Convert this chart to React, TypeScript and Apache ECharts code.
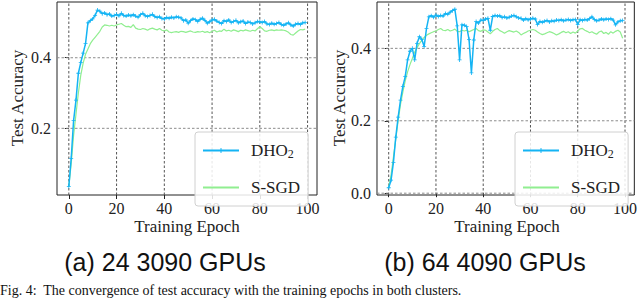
import React, { useEffect, useRef } from "react";
import * as echarts from "echarts";

const epochs: number[] = Array.from({ length: 100 }, (_, i) => i);

const xTicks = [0, 20, 40, 60, 80, 100];
const yTicksA = [0.2, 0.4];
const yTicksB = [0.0, 0.2, 0.4];

const seriesNames = ["DHO2", "S-SGD"];
const captions = ["(a) 24 3090 GPUs", "(b) 64 4090 GPUs"];

// (a) 24 3090 GPUs
const dhoA = [
  0.035, 0.115, 0.222, 0.28, 0.356, 0.386, 0.413, 0.44, 0.499, 0.505,
  0.51, 0.52, 0.535, 0.532, 0.525, 0.527, 0.522, 0.524, 0.518, 0.52,
  0.523, 0.519, 0.526, 0.52, 0.518, 0.521, 0.519, 0.522, 0.518, 0.515,
  0.522, 0.526, 0.519, 0.517, 0.52, 0.523, 0.517, 0.514, 0.516, 0.511,
  0.51, 0.514, 0.512, 0.515, 0.513, 0.516, 0.515, 0.513, 0.505, 0.507,
  0.498, 0.505, 0.51, 0.508, 0.503, 0.509, 0.512, 0.506, 0.498, 0.502,
  0.507, 0.509, 0.504, 0.5, 0.497, 0.505, 0.503, 0.507, 0.5, 0.503,
  0.506, 0.499, 0.502, 0.504, 0.497, 0.501, 0.5, 0.496, 0.499, 0.503,
  0.502, 0.5, 0.503, 0.496, 0.494, 0.498, 0.495, 0.497, 0.5, 0.494,
  0.492, 0.496, 0.499, 0.493, 0.49, 0.495, 0.497, 0.494, 0.499, 0.5,
];
const sgdA = [
  0.035, 0.1, 0.18, 0.24, 0.3, 0.35, 0.385, 0.41, 0.425, 0.44,
  0.45, 0.458, 0.466, 0.475, 0.487, 0.493, 0.492, 0.49, 0.492, 0.49,
  0.493, 0.495, 0.497, 0.492, 0.488, 0.489, 0.486, 0.494, 0.484, 0.481,
  0.48, 0.483, 0.481, 0.478, 0.482, 0.484, 0.481, 0.479, 0.483, 0.478,
  0.476, 0.479, 0.473, 0.471, 0.473, 0.474, 0.472, 0.475, 0.474, 0.472,
  0.474, 0.476, 0.473, 0.472, 0.474, 0.473, 0.475, 0.472, 0.474, 0.471,
  0.475, 0.478, 0.473, 0.476, 0.475, 0.481, 0.476, 0.478, 0.475, 0.479,
  0.477, 0.474, 0.478, 0.476, 0.479, 0.477, 0.475, 0.478, 0.476, 0.482,
  0.488, 0.483, 0.476, 0.475, 0.478, 0.479, 0.477, 0.479, 0.478, 0.479,
  0.478, 0.476, 0.472, 0.466, 0.464, 0.47, 0.476, 0.48, 0.479, 0.481,
];

// (b) 64 4090 GPUs
const dhoB = [
  0.015, 0.036, 0.085, 0.155, 0.21, 0.257, 0.295, 0.322, 0.368, 0.392,
  0.4, 0.368, 0.414, 0.432, 0.425, 0.405, 0.455, 0.487, 0.49, 0.486,
  0.492, 0.488, 0.491, 0.489, 0.496, 0.494, 0.5, 0.504, 0.508, 0.462,
  0.368, 0.465, 0.464, 0.46, 0.425, 0.332, 0.423, 0.474, 0.47, 0.478,
  0.477, 0.481, 0.483, 0.45, 0.488, 0.491, 0.489, 0.49, 0.485, 0.487,
  0.484, 0.486, 0.489, 0.491, 0.487, 0.484, 0.483, 0.478, 0.482, 0.479,
  0.481, 0.483, 0.481, 0.466, 0.474, 0.472, 0.475, 0.477, 0.473, 0.476,
  0.475, 0.478, 0.477, 0.479, 0.476, 0.478, 0.48, 0.477, 0.479, 0.48,
  0.466, 0.479, 0.477, 0.48, 0.478, 0.482, 0.487, 0.48, 0.476, 0.478,
  0.481, 0.479, 0.481, 0.48, 0.482, 0.478, 0.465, 0.473, 0.476, 0.477,
];
const sgdB = [
  0.018, 0.05, 0.1, 0.15, 0.2, 0.245, 0.28, 0.31, 0.335, 0.355,
  0.372, 0.39, 0.402, 0.413, 0.422, 0.43, 0.436, 0.44, 0.443, 0.446,
  0.448, 0.452, 0.455, 0.45, 0.449, 0.452, 0.448, 0.45, 0.453, 0.447,
  0.446, 0.45, 0.448, 0.45, 0.446, 0.449, 0.452, 0.455, 0.449, 0.447,
  0.451, 0.45, 0.445, 0.44, 0.447, 0.452, 0.455, 0.449, 0.446, 0.442,
  0.446, 0.449, 0.447, 0.445, 0.448, 0.444, 0.437, 0.441, 0.444, 0.448,
  0.45, 0.452, 0.45, 0.445, 0.441, 0.438, 0.44, 0.443, 0.446, 0.444,
  0.441, 0.437, 0.44, 0.444, 0.447, 0.443, 0.446, 0.441, 0.445, 0.442,
  0.448, 0.454, 0.455, 0.45, 0.447, 0.443, 0.446, 0.442, 0.439, 0.445,
  0.448, 0.441, 0.444, 0.439, 0.446, 0.442, 0.447, 0.45, 0.445, 0.428,
];

const BLUE = "#14b4f4";
const GREEN = "#90ee90";
const SERIF = "'Liberation Serif', 'DejaVu Serif', serif";
const SANS = "'Liberation Sans', Arial, sans-serif";
const PLUS = "path://M4,0h2v4h4v2h-4v4h-2v-4h-4v-2h4z";

export default function App() {
  const ref = useRef<HTMLDivElement>(null);
  useEffect(() => {
    if (!ref.current) return;
    const chart = echarts.init(ref.current, null, { renderer: "svg" });

    const grids = [
      { left: 57, top: 2, width: 260, height: 193 },
      { left: 377, top: 2, width: 261, height: 193 },
    ];
    const xRange = [-4.95, 103.95];
    const yRanges = [
      [0.011, 0.558],
      [-0.005, 0.528],
    ];
    const yTicks = [yTicksA, yTicksB];

    const xAxes = grids.map((_, i) => ({
      type: "value",
      gridIndex: i,
      min: xRange[0],
      max: xRange[1],
      axisLine: { show: false },
      axisTick: {
        show: true,
        length: 4,
        customValues: xTicks,
        lineStyle: { color: "#222", width: 1 },
      },
      axisLabel: {
        customValues: xTicks,
        margin: 5,
        fontFamily: SERIF,
        fontSize: 16,
        color: "#222",
      },
      splitLine: { show: false },
    }));
    const yAxes = grids.map((_, i) => ({
      type: "value",
      gridIndex: i,
      min: yRanges[i][0],
      max: yRanges[i][1],
      axisLine: { show: false },
      axisTick: {
        show: true,
        length: 4,
        customValues: yTicks[i],
        lineStyle: { color: "#222", width: 1 },
      },
      axisLabel: {
        customValues: yTicks[i],
        margin: 6,
        fontFamily: SERIF,
        fontSize: 16,
        color: "#222",
        formatter: (v: number) => v.toFixed(1),
      },
      splitLine: { show: false },
    }));

    const mk = (name: string, data: number[], idx: number, color: string, marker: boolean) => ({
      name,
      type: "line",
      xAxisIndex: idx,
      yAxisIndex: idx,
      data: epochs.map((e, k) => [e, data[k]]),
      showSymbol: marker,
      symbol: marker ? PLUS : "none",
      symbolSize: 4,
      itemStyle: { color },
      lineStyle: { color, width: marker ? 1.5 : 1.2 },
      z: marker ? 4 : 3,
    });

    // dashed grid lines as two-point line series at the tick values
    const gridSeries: any[] = [];
    for (let i = 0; i < 2; i++) {
      for (const v of xTicks) {
        gridSeries.push({
          type: "line",
          xAxisIndex: i,
          yAxisIndex: i,
          data: [
            [v, yRanges[i][0]],
            [v, yRanges[i][1]],
          ],
          symbol: "none",
          silent: true,
          z: 2,
          lineStyle: { color: "#555555", width: 1, type: [2.5, 2] },
        });
      }
      for (const v of yTicks[i]) {
        gridSeries.push({
          type: "line",
          xAxisIndex: i,
          yAxisIndex: i,
          data: [
            [xRange[0], v],
            [xRange[1], v],
          ],
          symbol: "none",
          silent: true,
          z: 2,
          lineStyle: { color: "#8c8c8c", width: 1, type: [2.5, 2] },
        });
      }
    }

    const legends = [195, 515].map((left) => ({
      left,
      top: 132,
      orient: "vertical",
      padding: [10, 8, 10, 7],
      itemGap: 19,
      itemWidth: 36,
      itemHeight: 6,
      backgroundColor: "rgba(255,255,255,0.85)",
      borderColor: "#d0d0d0",
      borderWidth: 1,
      borderRadius: 3,
      z: 6,
      data: [
        { name: seriesNames[0] },
        { name: seriesNames[1], itemStyle: { opacity: 0 } },
      ],
      selectedMode: false,
      formatter: (n: string) => (n === "DHO2" ? "{a|DHO}{s|2}" : "{a|" + n + "}"),
      textStyle: {
        padding: [0, 0, 0, 7],
        rich: {
          a: { fontFamily: SERIF, fontSize: 17, color: "#222" },
          s: { fontFamily: SERIF, fontSize: 12, color: "#222", padding: [7, 0, 0, 0] },
        },
      },
    }));

    const texts: any[] = [];
    const axisNameX = [187, 507];
    const axisNameY = [17, 339];
    const capX = [165, 485];
    for (let i = 0; i < 2; i++) {
      texts.push({
        type: "text",
        x: axisNameX[i],
        y: 226,
        style: {
          text: "Training Epoch",
          fontFamily: SERIF,
          fontSize: 17,
          fill: "#222",
          textAlign: "center",
          textVerticalAlign: "middle",
        },
      });
      texts.push({
        type: "text",
        x: axisNameY[i],
        y: 98,
        rotation: Math.PI / 2,
        style: {
          text: "Test Accuracy",
          fontFamily: SERIF,
          fontSize: 17,
          fill: "#222",
          textAlign: "center",
          textVerticalAlign: "middle",
        },
      });
      texts.push({
        type: "text",
        x: capX[i],
        y: 262,
        style: {
          text: captions[i],
          fontFamily: SANS,
          fontSize: 25,
          fill: "#111",
          textAlign: "center",
          textVerticalAlign: "middle",
        },
      });
    }
    texts.push({
      type: "text",
      x: 0,
      y: 283,
      style: {
        text: "Fig. 4:  The convergence of test accuracy with the training epochs in both clusters.",
        fontFamily: SERIF,
        fontSize: 14,
        lineHeight: 14,
        fill: "#111",
        textAlign: "left",
        textVerticalAlign: "top",
      },
    });

    chart.setOption({
      animation: false,
      backgroundColor: "#fff",
      grid: grids.map((g) => ({
        ...g,
        show: true,
        borderColor: "#222",
        borderWidth: 1,
        containLabel: false,
      })),
      xAxis: xAxes,
      yAxis: yAxes,
      legend: legends,
      series: [
        ...gridSeries,
        mk("S-SGD", sgdA, 0, GREEN, false),
        mk("DHO2", dhoA, 0, BLUE, true),
        mk("S-SGD", sgdB, 1, GREEN, false),
        mk("DHO2", dhoB, 1, BLUE, true),
      ],
      graphic: texts,
    });

    return () => chart.dispose();
  }, []);
  return (
    <div
      ref={ref}
      style={{ position: "fixed", left: 0, top: 0, width: 640, height: 298 }}
    />
  );
}
